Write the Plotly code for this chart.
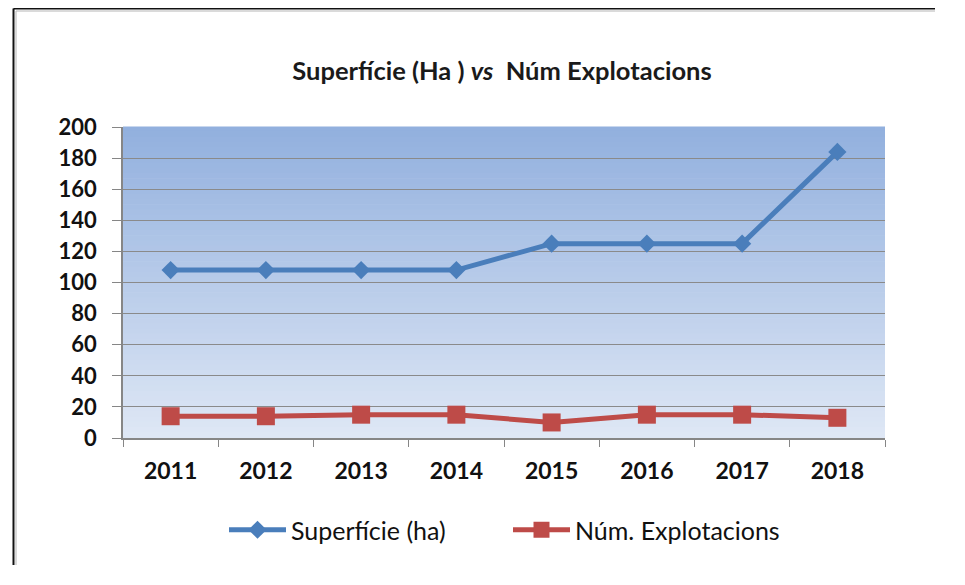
import plotly.graph_objects as go

years = ["2011", "2012", "2013", "2014", "2015", "2016", "2017", "2018"]
superficie = [108, 108, 108, 108, 125, 125, 125, 184]
explotacions = [14, 14, 15, 15, 10, 15, 15, 13]
y_ticks = [0, 20, 40, 60, 80, 100, 120, 140, 160, 180, 200]

# page body has an 8px margin: work in screen pixels, subtract offset
OFF = 8
W, H = 965 - 2 * OFF, 585 - 2 * OFF
L, R, T, B = 123 - OFF, 885 - OFF, 127 - OFF, 438 - OFF

fig = go.Figure()
fig.add_trace(go.Scatter(
    x=years, y=superficie, name="Superfície (ha)", mode="lines+markers",
    line=dict(color="#4a7ebb", width=5),
    marker=dict(symbol="diamond", size=14, color="#4a7ebb"),
))
fig.add_trace(go.Scatter(
    x=years, y=explotacions, name="Núm. Explotacions", mode="lines+markers",
    line=dict(color="#be4b48", width=5),
    marker=dict(symbol="square", size=18, color="#be4b48"),
))

# gradient background
shapes = []
n = 60
top = (146, 176, 222)
bot = (222, 231, 245)
for i in range(n):
    f = i / (n - 1)
    c = tuple(round(top[k] + (bot[k] - top[k]) * f) for k in range(3))
    shapes.append(dict(type="rect", xref="x domain", yref="y domain",
                       x0=0, x1=1, y0=1 - (i + 1) / n, y1=1 - i / n + 0.002,
                       fillcolor="rgb(%d,%d,%d)" % c, line=dict(width=0), layer="below"))

pw, ph = R - L, B - T
def px(x):  # screen pixel -> paper x
    return (x - OFF - L) / pw
def py(y):  # screen pixel -> paper y
    return (B - (y - OFF)) / ph

# outer frame: only the top and left edges are visible in the picture
x_end, y_end = 935, 565
for (x0, y0, x1, y1, col, wd) in [
    (13.5, 8.5, x_end, 8.5, "#111111", 2),
    (13.5, 8.5, 13.5, y_end, "#111111", 2),
    (16, 11, x_end, 11, "#b5b5b5", 1),
    (16, 11, 16, y_end, "#b5b5b5", 1),
]:
    shapes.append(dict(type="line", xref="paper", yref="paper",
                       x0=px(x0), x1=px(x1), y0=py(y0), y1=py(y1),
                       line=dict(color=col, width=wd), layer="above"))

fig.update_layout(shapes=shapes)

font_family = "Lato, 'Open Sans', sans-serif"
fig.update_layout(
    width=W, height=H,
    margin=dict(l=L, r=W - R, t=T, b=H - B, pad=0),
    paper_bgcolor="white", plot_bgcolor="#dfe8f5",
    title=dict(text="Superfície (Ha ) <i>vs</i>\u00a0\u00a0Núm Explotacions",
               xref="paper", x=px(502), xanchor="center", y=1 - (71 - OFF) / H, yanchor="middle",
               font=dict(family=font_family, size=25.5, color="#1a1a1a", weight="bold")),
    xaxis=dict(type="category", range=[-0.5, 7.5], tickson="boundaries",
               ticks="outside", ticklen=7, tickcolor="#868686", tickwidth=1,
               showline=True, linecolor="#868686", linewidth=1.5,
               showgrid=False, zeroline=False,
               tickfont=dict(family=font_family, size=23, color="#111111", weight="bold"),
               ticklabelstandoff=12),
    yaxis=dict(range=[0, 200], tickvals=y_ticks, ticks="outside", ticklen=9,
               tickcolor="#868686", showline=True, linecolor="#868686", linewidth=1.5,
               showgrid=True, gridcolor="#8a8a8a", gridwidth=1.3, zeroline=False,
               tickfont=dict(family=font_family, size=22, color="#111111", weight="bold"),
               ticklabelstandoff=11),
    legend=dict(orientation="h", x=px(224), xanchor="left", y=py(530), yanchor="middle",
                font=dict(family=font_family, size=25, color="#111111"),
                itemwidth=57, entrywidth=212, entrywidthmode="pixels",
                traceorder="normal", bgcolor="rgba(0,0,0,0)"),
    showlegend=True,
)

fig.write_html("out.html")
